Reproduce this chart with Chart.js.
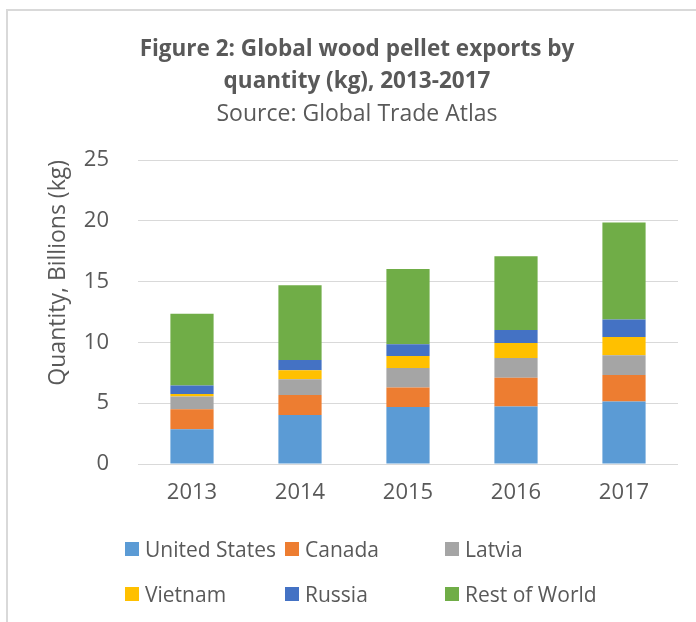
<!DOCTYPE html>
<html>
<head>
<meta charset="utf-8">
<script src="https://cdn.jsdelivr.net/npm/chart.js@4.4.0/dist/chart.umd.min.js"></script>
<style>
  html, body { margin: 0; padding: 0; background: #fff; }
  #wrap { position: relative; width: 696px; height: 622px; overflow: hidden; }
  #frame {
    position: absolute; left: 6px; top: 9px; right: -10px; bottom: -10px;
    border-top: 2px solid #d9d9d9; border-left: 2px solid #d9d9d9;
  }
  #chart { position: absolute; left: 0; top: 0; }
  #legend {
    position: absolute; left: 125px; top: 536px;
    display: grid; grid-template-columns: 160px 160px 160px; grid-auto-rows: 45px;
    font-family: 'Open Sans', sans-serif; font-size: 21px; color: #595959;
  }
  .item { display: flex; align-items: center; height: 26px; white-space: nowrap; }
  .swatch { width: 14px; height: 14px; margin-right: 6px; flex: none; }
</style>
</head>
<body>
<div id="wrap">
  <div id="frame"></div>
  <canvas id="chart" width="696" height="622"></canvas>
  <div id="legend"></div>
</div>
<script>
// Global wood pellet exports, billions of kg
const years = ['2013', '2014', '2015', '2016', '2017'];
const unitedStates = [2.86, 4.02, 4.68, 4.73, 5.14];
const canada = [1.65, 1.65, 1.62, 2.37, 2.18];
const latvia = [1.04, 1.29, 1.59, 1.62, 1.62];
const vietnam = [0.20, 0.74, 0.99, 1.24, 1.51];
const russia = [0.71, 0.85, 0.97, 1.07, 1.43];
const restOfWorld = [5.89, 6.14, 6.18, 6.05, 7.98];
const yTicks = [0, 5, 10, 15, 20, 25];

const TEXT = '#595959';
const GRID = '#d9d9d9';

Chart.defaults.font.family = "'Open Sans', sans-serif";
Chart.defaults.color = TEXT;

/**
 * Build one stacked series
 */
function series(label, data, color) {
    return {
        label: label,
        data: data,
        backgroundColor: color,
        borderWidth: 0,
        barPercentage: 0.4,
        categoryPercentage: 1,
    };
}

const datasets = [
    series('United States', unitedStates, '#5b9bd5'),
    series('Canada', canada, '#ed7d31'),
    series('Latvia', latvia, '#a5a5a5'),
    series('Vietnam', vietnam, '#ffc000'),
    series('Russia', russia, '#4472c4'),
    series('Rest of World', restOfWorld, '#70ad47'),
];

const chart = new Chart(document.getElementById('chart').getContext('2d'), {
    type: 'bar',
    data: { labels: years, datasets: datasets },
    options: {
        responsive: false,
        animation: false,
        // left padding pushes the title block right, the y axis width takes it back
        layout: { padding: { left: 36, right: 18, top: 0, bottom: 108 } },
        plugins: {
            legend: { display: false },
            tooltip: { enabled: false },
            title: {
                display: true,
                text: ['Figure 2: Global wood pellet exports by', 'quantity (kg), 2013-2017'],
                font: { size: 22.5, weight: 'bold', lineHeight: 32 / 22.5 },
                color: TEXT,
                padding: { top: 34, bottom: 0 },
            },
            subtitle: {
                display: true,
                text: 'Source: Global Trade Atlas',
                font: { size: 23, lineHeight: 32 / 23 },
                color: TEXT,
                padding: { top: 0, bottom: 30 },
            },
        },
        scales: {
            x: {
                stacked: true,
                grid: { display: false, drawTicks: false },
                border: { display: false },
                ticks: { font: { size: 22 }, padding: 16 },
                afterFit: function(scale) { scale.height = 50; },
            },
            y: {
                stacked: true,
                min: 0,
                max: 25,
                afterBuildTicks: function(scale) {
                    scale.ticks = yTicks.map(v => ({ value: v }));
                },
                grid: { color: GRID, lineWidth: 1, drawTicks: false },
                border: { display: false },
                ticks: { font: { size: 22 }, padding: 29 },
                title: {
                    display: true,
                    text: 'Quantity, Billions (kg)',
                    align: 'end',
                    font: { size: 23 },
                    padding: { top: 9, bottom: 0 },
                },
                afterFit: function(scale) { scale.width = 102; },
            },
        },
    },
});

/**
 * Legend laid out in three fixed columns, like the original
 */
document.getElementById('legend').innerHTML = chart.data.datasets.map(ds => `
    <div class="item"><span class="swatch" style="background:${ds.backgroundColor}"></span>${ds.label}</div>
`).join('');
</script>
</body>
</html>
